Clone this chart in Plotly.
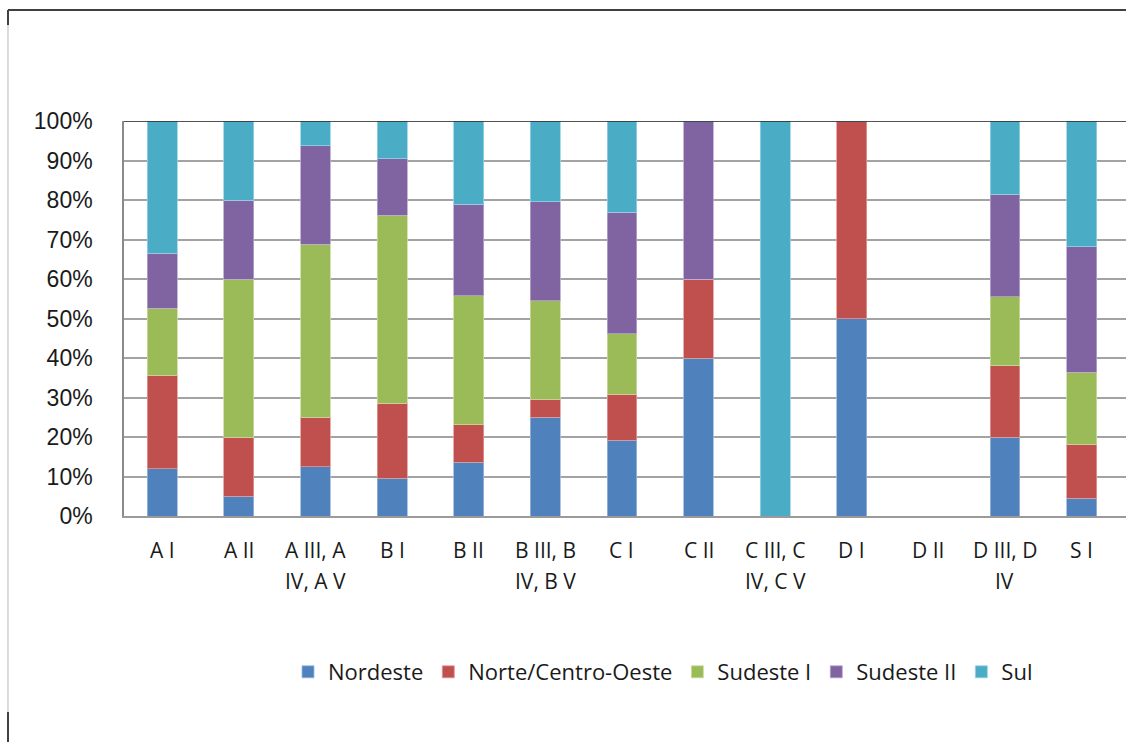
import plotly.graph_objects as go

# Categories (label lines separated by "\n")
categories = [
    "A I", "A II", "A III, A\nIV, A V", "B I", "B II", "B III, B\nIV, B V",
    "C I", "C II", "C III, C\nIV, C V", "D I", "D II", "D III, D\nIV", "S I",
]

# Share of each region within each category (%)
nordeste = [12.0, 5.0, 12.5, 9.5, 13.6, 25.0, 19.2, 40.0, 0.0, 50.0, 0.0, 20.0, 4.5]
norte_centro_oeste = [23.6, 15.0, 12.5, 19.1, 9.5, 4.5, 11.6, 20.0, 0.0, 50.0, 0.0, 18.0, 13.7]
sudeste_i = [17.0, 40.0, 43.75, 47.6, 32.7, 25.0, 15.4, 0.0, 0.0, 0.0, 0.0, 17.5, 18.2]
sudeste_ii = [13.9, 20.0, 25.0, 14.3, 23.1, 25.0, 30.7, 40.0, 0.0, 0.0, 0.0, 26.0, 31.8]
sul = [33.5, 20.0, 6.25, 9.5, 21.1, 20.5, 23.1, 0.0, 100.0, 0.0, 0.0, 18.5, 31.8]

series = [
    ("Nordeste", nordeste, "#4F81BD", "#9db8dc"),
    ("Norte/Centro-Oeste", norte_centro_oeste, "#C0504D", "#e09a98"),
    ("Sudeste I", sudeste_i, "#9BBB59", "#c9dca0"),
    ("Sudeste II", sudeste_ii, "#8064A2", "#b8a6cf"),
    ("Sul", sul, "#4BACC6", "#97d3e3"),
]

W, H = 1126, 742
ML, MR, MT, MB = 124, 0, 121, 226
PW, PH = W - ML - MR, H - MT - MB

x = list(range(len(categories)))

fig = go.Figure()
for name, vals, color, edge in series:
    fig.add_trace(go.Bar(
        x=x, y=vals, name=name, width=0.39,
        marker=dict(color=color, line=dict(color=edge, width=0.8)),
    ))


def px_x(p):
    return (p - ML) / PW


def px_y(p):
    return (H - MB - p) / PH


shapes = [
    # dark top edge of the plotting area
    dict(type="line", xref="paper", yref="y", x0=0, x1=1, y0=100, y1=100,
         line=dict(color="#1a1a1a", width=1.5), layer="above"),
    # outer frame: top edge and left edge
    dict(type="line", xref="paper", yref="paper", x0=px_x(8), x1=px_x(1126),
         y0=px_y(10), y1=px_y(10), line=dict(color="#404040", width=2)),
    dict(type="line", xref="paper", yref="paper", x0=px_x(8), x1=px_x(8),
         y0=px_y(10), y1=px_y(742), line=dict(color="#c4c4c4", width=1.2)),
    dict(type="line", xref="paper", yref="paper", x0=px_x(8), x1=px_x(8),
         y0=px_y(10), y1=px_y(25), line=dict(color="#404040", width=2)),
    dict(type="line", xref="paper", yref="paper", x0=px_x(8), x1=px_x(8),
         y0=px_y(712), y1=px_y(742), line=dict(color="#404040", width=2)),
]

# Category labels, one annotation per text line
annotations = []
for i, label in enumerate(categories):
    for k, line in enumerate(label.split("\n")):
        annotations.append(dict(
            x=i, y=0, xref="x", yref="paper", text=line, showarrow=False,
            xanchor="center", yanchor="middle", yshift=-(34 + 31 * k),
            font=dict(family="Open Sans", size=21, color="#1a1a1a"),
        ))

fig.update_layout(
    width=W, height=H,
    margin=dict(l=ML, r=MR, t=MT, b=MB, pad=0),
    barmode="stack",
    plot_bgcolor="white", paper_bgcolor="white",
    showlegend=True,
    legend=dict(
        orientation="h", x=px_x(663), xanchor="center", y=px_y(672), yanchor="middle",
        font=dict(family="Open Sans", size=22, color="#1a1a1a"),
        itemwidth=30, traceorder="normal",
    ),
    xaxis=dict(
        range=[-0.5, 12.58], tickvals=x, showticklabels=False,
        showgrid=False, zeroline=False, showline=True,
        linecolor="#9a9a9a", linewidth=1.5, fixedrange=True,
    ),
    yaxis=dict(
        range=[0, 100], dtick=10, ticksuffix="%",
        showgrid=True, gridcolor="#a3a3a3", gridwidth=1.5,
        zeroline=False, showline=True, linecolor="#8a8a8a", linewidth=1.5,
        ticks="outside", ticklen=0, ticklabelstandoff=25,
        tickfont=dict(family="Liberation Sans", size=23, color="#1a1a1a"),
    ),
    shapes=shapes,
    annotations=annotations,
)

fig.write_html("out.html")
